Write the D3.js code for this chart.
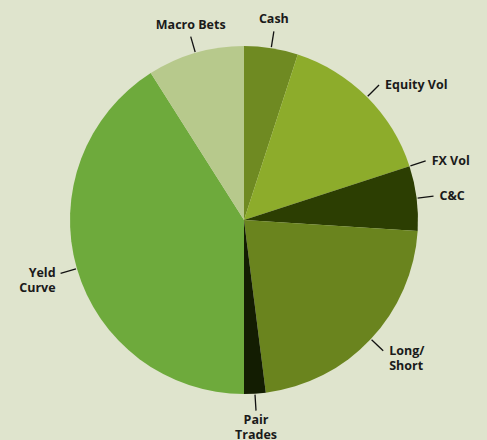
<!DOCTYPE html>
<html>
<head>
<meta charset="utf-8">
<script src="https://cdn.jsdelivr.net/npm/d3@7"></script>
<style>
  html, body { margin: 0; padding: 0; background: #dfe4cd; }
  svg { display: block; }
  .lbl { font-family: "Open Sans", sans-serif; font-weight: 700; font-size: 12.5px; fill: #1a1a1a; }
</style>
</head>
<body>
<svg id="chart" width="487" height="440"></svg>
<script>
const categories = ['Cash', 'Equity Vol', 'FX Vol', 'C&C', 'Long/Short', 'Pair Trades', 'Yeld Curve', 'Macro Bets'];
const labelLines = [['Cash'], ['Equity Vol'], ['FX Vol'], ['C&C'], ['Long/', 'Short'], ['Pair', 'Trades'], ['Yeld', 'Curve'], ['Macro Bets']];
const values = [5, 15, 0, 6, 22, 2, 41, 9];
const colors = ['#6f8a22', '#8dac2b', '#8dac2b', '#2c3e02', '#6a841e', '#131d02', '#6eaa3c', '#b7c98c'];

const svg = d3.select('#chart');
const cx = 244, cy = 220, radius = 174;
const lineGap = 15;

const data = categories.map((c, i) => ({ name: c, lines: labelLines[i], value: values[i], color: colors[i] }));

const pie = d3.pie().sort(null).value(d => d.value);
const arcs = pie(data);

const arc = d3.arc().innerRadius(0).outerRadius(radius);

const g = svg.append('g').attr('transform', `translate(${cx},${cy})`);

g.selectAll('path.slice')
  .data(arcs)
  .enter()
  .append('path')
  .attr('class', 'slice')
  .attr('d', arc)
  .attr('fill', d => d.data.color);

// leader lines + labels, placed at the middle angle of each slice
const lineInner = d3.arc().innerRadius(radius + 1).outerRadius(radius + 1);
const lineOuter = d3.arc().innerRadius(radius + 17).outerRadius(radius + 17);

arcs.forEach(d => {
  const m = (d.startAngle + d.endAngle) / 2;
  const mid = { startAngle: m, endAngle: m };
  const p0 = lineInner.centroid(mid);
  const p1 = lineOuter.centroid(mid);
  g.append('line')
    .attr('x1', p0[0]).attr('y1', p0[1])
    .attr('x2', p1[0]).attr('y2', p1[1])
    .attr('stroke', '#111')
    .attr('stroke-width', 1.3);

  const s = Math.sin(m), c = Math.cos(m);
  let anchor, tx, ty;
  if (Math.abs(s) < 0.35) {
    anchor = 'middle';
    tx = p1[0];
    ty = c > 0 ? p1[1] - 8 - (d.data.lines.length - 1) * lineGap : p1[1] + 13;
  } else if (s > 0) {
    anchor = 'start';
    tx = p1[0] + 6;
    ty = p1[1] + 4;
  } else {
    anchor = 'end';
    tx = p1[0] - 5;
    ty = p1[1] + 4;
  }
  d.data.lines.forEach((ln, i) => {
    g.append('text')
      .attr('class', 'lbl')
      .attr('text-anchor', anchor)
      .attr('x', tx)
      .attr('y', ty + i * lineGap)
      .text(ln);
  });
});
</script>
</body>
</html>
